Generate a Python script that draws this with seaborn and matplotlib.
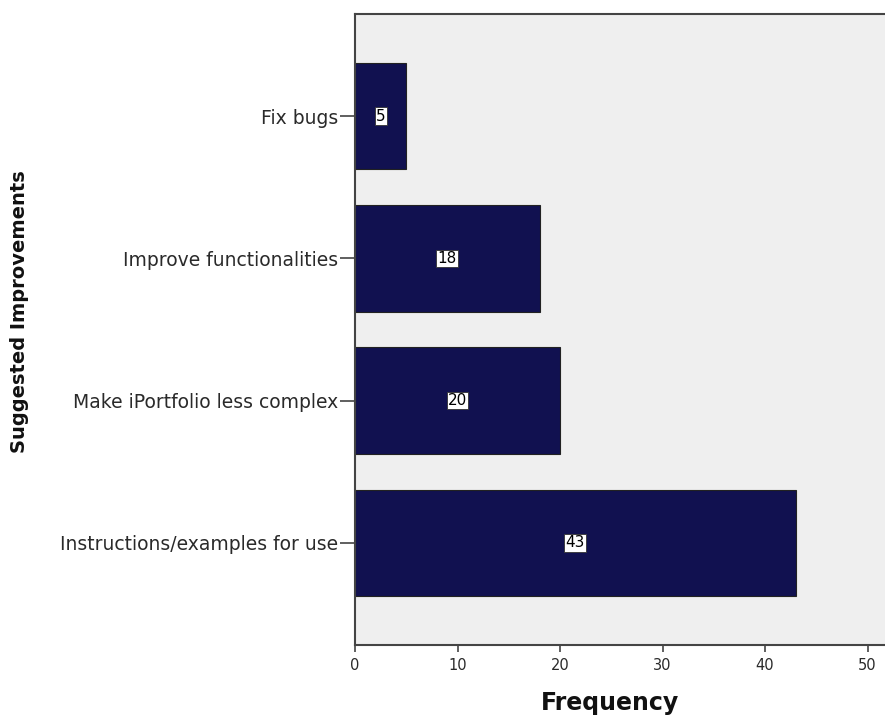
import matplotlib
matplotlib.use("Agg")
import matplotlib.pyplot as plt
import seaborn as sns
import pandas as pd

categories = ["Fix bugs", "Improve functionalities", "Make iPortfolio less complex", "Instructions/examples for use"]
frequencies = [5, 18, 20, 43]
x_ticks = [0, 10, 20, 30, 40, 50]

sns.set_theme(style="white")
plt.rcParams['font.family'] = ['DejaVu Sans']

df = pd.DataFrame({"cat": categories, "freq": frequencies})

fig = plt.figure(figsize=(8.85, 7.16), dpi=100)
ax = fig.add_axes([355/885, 71/716, 1 - 355/885, (645-14)/716])
ax.set_facecolor("#efefef")

sns.barplot(data=df, y="cat", x="freq", orient="h", order=categories,
            color="#111150", saturation=1, width=0.75, edgecolor="#222222", linewidth=0.8, ax=ax)

for i, v in enumerate(frequencies):
    ax.text(v / 2, i, str(v), ha="center", va="center", fontsize=11, color="black",
            bbox=dict(boxstyle="square,pad=0.08", facecolor="white", edgecolor="#333333", linewidth=0.6))

ax.set_xlim(0, 51.7)
ax.set_ylim(3.718, -0.718)
ax.set_xticks(x_ticks)
ax.set_xticklabels([str(t) for t in x_ticks], fontsize=10.5)
ax.tick_params(axis="y", labelsize=13.5, length=11, width=1.2, color="#444444", pad=1, direction="out", left=True)
ax.tick_params(axis="x", length=5, width=1.2, color="#444444", pad=4, direction="out", bottom=True)
for lbl in ax.get_yticklabels() + ax.get_xticklabels():
    lbl.set_color("#2a2a2a")

for s in ["left", "top", "bottom"]:
    ax.spines[s].set_visible(True)
    ax.spines[s].set_color("#444444")
    ax.spines[s].set_linewidth(1.5)
ax.spines["right"].set_visible(False)

ax.set_xlabel("")
ax.set_ylabel("")
fig.text(610/885, 1 - 703/716, "Frequency", ha="center", va="center",
         fontsize=17, fontweight="bold", color="#111111")
fig.text(20/885, 1 - 312/716, "Suggested Improvements", rotation=90, ha="center", va="center",
         fontsize=14, fontweight="bold", color="#111111")

fig.savefig("out.png", dpi=100)
